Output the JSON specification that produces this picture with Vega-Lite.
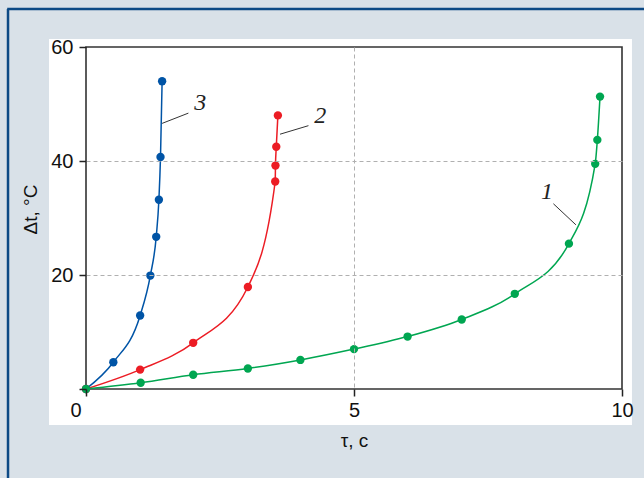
{
  "$schema": "https://vega.github.io/schema/vega-lite/v6.json",
  "width": 536,
  "height": 342,
  "autosize": {"type": "none"},
  "padding": {"left": 86, "top": 47, "right": 22, "bottom": 89},
  "background": "#d9e1e8",
  "config": {
    "view": {"stroke": null},
    "axis": {
      "domain": false,
      "labelFont": "Liberation Sans",
      "labelFontSize": 20,
      "labelColor": "#111111",
      "titleFont": "Liberation Sans",
      "titleFontSize": 19,
      "titleFontWeight": "normal",
      "titleColor": "#111111",
      "tickColor": "#222222",
      "tickWidth": 1.5,
      "tickSize": 7,
      "gridColor": "#b0b0b0",
      "gridDash": [4, 3],
      "gridWidth": 1
    }
  },
  "datasets": {
    "panel": [{"x1": -0.69, "x2": 10.186, "y1": -6.32, "y2": 61.4}],
    "box": [{"x1": 0, "x2": 10, "y1": 0, "y2": 60}],
    "frame": [
      {"x1": -1.455, "y1": 66.67, "x2": -1.455, "y2": -16},
      {"x1": -1.47, "y1": 66.67, "x2": 10.5, "y2": 66.67}
    ],
    "pts": [
      {"series": "3", "x": 0, "y": 0},
      {"series": "3", "x": 0.51, "y": 4.7},
      {"series": "3", "x": 1.01, "y": 12.9},
      {"series": "3", "x": 1.2, "y": 19.9},
      {"series": "3", "x": 1.31, "y": 26.7},
      {"series": "3", "x": 1.36, "y": 33.2},
      {"series": "3", "x": 1.39, "y": 40.7},
      {"series": "3", "x": 1.42, "y": 54.0},
      {"series": "2", "x": 0, "y": 0},
      {"series": "2", "x": 1.01, "y": 3.4},
      {"series": "2", "x": 2.0, "y": 8.1},
      {"series": "2", "x": 3.02, "y": 17.9},
      {"series": "2", "x": 3.53, "y": 36.4},
      {"series": "2", "x": 3.535, "y": 39.2},
      {"series": "2", "x": 3.55, "y": 42.5},
      {"series": "2", "x": 3.58, "y": 48.0},
      {"series": "1", "x": 0, "y": 0},
      {"series": "1", "x": 1.02, "y": 1.1},
      {"series": "1", "x": 2.0, "y": 2.5},
      {"series": "1", "x": 3.02, "y": 3.6},
      {"series": "1", "x": 4.0, "y": 5.1},
      {"series": "1", "x": 5.0, "y": 7.0},
      {"series": "1", "x": 6.0, "y": 9.2},
      {"series": "1", "x": 7.01, "y": 12.2},
      {"series": "1", "x": 8.0, "y": 16.7},
      {"series": "1", "x": 9.01, "y": 25.5},
      {"series": "1", "x": 9.5, "y": 39.5},
      {"series": "1", "x": 9.54, "y": 43.7},
      {"series": "1", "x": 9.59, "y": 51.3}
    ],
    "leaders": [
      {"label": "3", "x1": 1.42, "y1": 46.6, "x2": 1.91, "y2": 48.4, "tx": 2.13, "ty": 50.2},
      {"label": "2", "x1": 3.62, "y1": 44.7, "x2": 4.15, "y2": 46.2, "tx": 4.37, "ty": 47.9},
      {"label": "1", "x1": 8.72, "y1": 32.5, "x2": 9.14, "y2": 28.8, "tx": 8.6, "ty": 34.6}
    ]
  },
  "layer": [
    {
      "data": {"name": "panel"},
      "mark": {"type": "rect", "fill": "white"},
      "encoding": {
        "x": {"field": "x1", "type": "quantitative", "scale": {"domain": [0, 10], "nice": false, "zero": false}, "axis": {"zindex": 1, "title": "τ, c", "values": [0, 5, 10], "labelPadding": 4, "labelAlign": {"condition": {"test": "datum.value == 0", "value": "right"}, "value": "center"}, "labelOffset": {"condition": {"test": "datum.value == 0", "value": -5}, "value": 0}, "gridOpacity": {"condition": {"test": "datum.value == 0 || datum.value == 10", "value": 0}, "value": 1}, "titleX": 268, "titleY": 51, "titleBaseline": "middle", "titleAlign": "center"}},
        "x2": {"field": "x2"},
        "y": {"field": "y1", "type": "quantitative", "scale": {"domain": [0, 60], "nice": false, "zero": false}, "axis": {"zindex": 1, "title": "Δt, °C", "values": [0, 20, 40, 60], "labelPadding": 6, "labelExpr": "datum.value == 0 ? '' : datum.label", "gridOpacity": {"condition": {"test": "datum.value == 0 || datum.value == 60", "value": 0}, "value": 1}, "titleAngle": 270, "titleX": -56, "titleY": 162, "titleAlign": "center", "titleBaseline": "middle"}},
        "y2": {"field": "y2"}
      }
    },
    {
      "data": {"name": "frame"},
      "mark": {"type": "rule", "color": "#0d4a85", "strokeWidth": 2.5},
      "encoding": {
        "x": {"field": "x1", "type": "quantitative"},
        "y": {"field": "y1", "type": "quantitative"},
        "x2": {"field": "x2"},
        "y2": {"field": "y2"}
      }
    },
    {
      "data": {"name": "box"},
      "mark": {"type": "rect", "fill": null, "fillOpacity": 0, "stroke": "#333333", "strokeWidth": 1.6},
      "encoding": {
        "x": {"field": "x1", "type": "quantitative"},
        "x2": {"field": "x2"},
        "y": {"field": "y1", "type": "quantitative"},
        "y2": {"field": "y2"}
      }
    },
    {
      "data": {"name": "pts"},
      "mark": {"type": "line", "interpolate": "monotone", "strokeWidth": 1.5},
      "encoding": {
        "x": {"field": "x", "type": "quantitative"},
        "y": {"field": "y", "type": "quantitative"},
        "color": {"field": "series", "type": "nominal", "scale": {"domain": ["1", "2", "3"], "range": ["#00a651", "#ec1c24", "#0054a6"]}, "legend": null}
      }
    },
    {
      "data": {"name": "pts"},
      "mark": {"type": "point", "filled": true, "opacity": 1, "size": 70},
      "encoding": {
        "x": {"field": "x", "type": "quantitative"},
        "y": {"field": "y", "type": "quantitative"},
        "color": {"field": "series", "type": "nominal", "legend": null}
      }
    },
    {
      "data": {"name": "leaders"},
      "mark": {"type": "rule", "color": "#333333", "strokeWidth": 1},
      "encoding": {
        "x": {"field": "x1", "type": "quantitative"},
        "y": {"field": "y1", "type": "quantitative"},
        "x2": {"field": "x2"},
        "y2": {"field": "y2"}
      }
    },
    {
      "data": {"name": "leaders"},
      "mark": {"type": "text", "font": "Liberation Serif", "fontStyle": "italic", "fontSize": 24, "color": "#222222", "align": "center", "baseline": "middle"},
      "encoding": {
        "x": {"field": "tx", "type": "quantitative"},
        "y": {"field": "ty", "type": "quantitative"},
        "text": {"field": "label"}
      }
    }
  ]
}
